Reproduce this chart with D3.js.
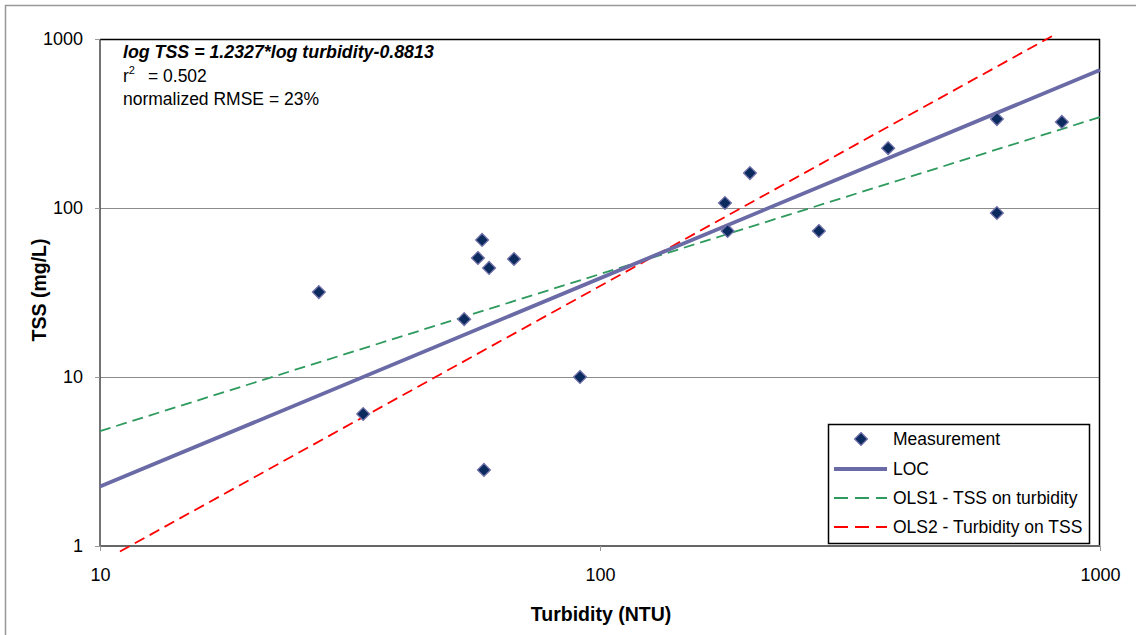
<!DOCTYPE html>
<html><head><meta charset="utf-8">
<script src="https://cdn.jsdelivr.net/npm/d3@7"></script>
<style>body{margin:0;background:#fff;} svg{display:block;font-family:"Liberation Sans",Arial,sans-serif;}</style>
</head><body>
<svg id="c" width="1136" height="635"></svg>
<script>
// Data
const turbidity = [27.4, 33.6, 53.5, 57.0, 58.1, 60.0, 58.6, 67.3, 91.2, 177.8, 180, 199.5, 274, 377, 622, 622, 839];
const tss       = [31.8, 6.04, 22.0, 50.6, 64.7, 44.2, 2.82, 49.9, 10.0, 107, 73.1, 161, 73.1, 226, 336, 93.4, 323];
const xTicks = [10, 100, 1000];
const yTicks = [1, 10, 100, 1000];
// Regression lines (log10 TSS = slope*log10 turbidity + intercept), drawn over turbidity range
const locLine  = {slope: 1.2327, intercept: -0.8813, range: [10, 1000]};
const ols1Line = {slope: 0.929,  intercept: -0.249,  range: [10, 1000]};
const ols2Line = {slope: 1.636,  intercept: -1.734,  range: [10.96, 820]};
const legendLabels = ["Measurement", "LOC", "OLS1 - TSS on turbidity", "OLS2 - Turbidity on TSS"];
const annotation = ["log TSS = 1.2327*log turbidity-0.8813", "r", "normalized RMSE = 23%"];

const svg = d3.select("#c");
const L = 100, R = 1100, T = 39, B = 546;
const x = d3.scaleLog().domain([10, 1000]).range([L, R]);
const y = d3.scaleLog().domain([1, 1000]).range([B, T]);

// outer frame
svg.append("rect").attr("x", 5.5).attr("y", 5.5).attr("width", 1140).attr("height", 640)
  .attr("fill", "none").attr("stroke", "#999").attr("stroke-width", 1.5);

// gridlines
svg.append("g").selectAll("line").data([10, 100]).join("line")
  .attr("x1", L).attr("x2", R).attr("y1", d => Math.round(y(d)) + 0.5).attr("y2", d => Math.round(y(d)) + 0.5)
  .attr("stroke", "#8c8c8c").attr("stroke-width", 1);

// plot border top/right
svg.append("path").attr("d", `M${L},${T + 0.5}H${R - 0.5}V${B}`).attr("fill", "none").attr("stroke", "#000").attr("stroke-width", 1.5);

// axes
const yAxis = d3.axisLeft(y).tickValues(yTicks).tickFormat(d3.format("d")).tickSize(5).tickPadding(12);
const gy = svg.append("g").attr("transform", `translate(${L},0)`).call(yAxis);
gy.select(".domain").attr("stroke", "#444").attr("stroke-width", 1.5).attr("d", `M0,${T}V${B}`);
gy.selectAll(".tick line").attr("stroke", "#999");
gy.selectAll("text").attr("font-size", 18).attr("fill", "#000").attr("font-family", "Liberation Sans, Arial");

const xAxis = d3.axisBottom(x).tickValues(xTicks).tickFormat(d3.format("d")).tickSize(5).tickPadding(17);
const gx = svg.append("g").attr("transform", `translate(0,${B})`).call(xAxis);
gx.select(".domain").attr("stroke", "#666").attr("stroke-width", 2).attr("d", `M${L},0H${R}`);
gx.selectAll(".tick line").attr("stroke", "#999");
gx.selectAll("text").attr("font-size", 18).attr("fill", "#000").attr("font-family", "Liberation Sans, Arial");

// lines
function linePts(l) {
  return l.range.map(t => [x(t), y(Math.pow(10, l.slope * Math.log10(t) + l.intercept))]);
}
const line = d3.line();
svg.append("path").attr("d", line(linePts(ols1Line))).attr("fill", "none")
  .attr("stroke", "#2e9a5e").attr("stroke-width", 1.8).attr("stroke-dasharray", "11,6");
svg.append("path").attr("d", line(linePts(ols2Line))).attr("fill", "none")
  .attr("stroke", "#ff0000").attr("stroke-width", 1.8).attr("stroke-dasharray", "11,6");
svg.append("path").attr("d", line(linePts(locLine))).attr("fill", "none")
  .attr("stroke", "#6a6aa6").attr("stroke-width", 3.8);

// points
const diamond = d3.symbol().type(d3.symbolDiamond2).size(105);
svg.append("g").selectAll("path").data(turbidity.map((t, i) => [t, tss[i]])).join("path")
  .attr("d", diamond).attr("transform", d => `translate(${x(d[0])},${y(d[1])})`)
  .attr("fill", "#0b2a5e").attr("stroke", "#7070a8").attr("stroke-width", 1.3);

// annotation
svg.append("text").attr("x", 123).attr("y", 58).attr("font-size", 17.8).attr("font-weight", "bold")
  .attr("font-style", "italic").text(annotation[0]);
const r2 = svg.append("text").attr("x", 123).attr("y", 82).attr("font-size", 17.5);
r2.append("tspan").text(annotation[1]);
r2.append("tspan").attr("dy", -8).attr("font-size", 11).text("2");
r2.append("tspan").attr("dy", 8).attr("dx", 13).text("= 0.502");
svg.append("text").attr("x", 123).attr("y", 105).attr("font-size", 17.5).text(annotation[2]);

// axis titles
svg.append("text").attr("x", 601).attr("y", 621).attr("text-anchor", "middle")
  .attr("font-size", 19.5).attr("font-weight", "bold").text("Turbidity (NTU)");
svg.append("text").attr("transform", "translate(46,290) rotate(-90)").attr("text-anchor", "middle")
  .attr("font-size", 19.5).attr("font-weight", "bold").text("TSS (mg/L)");

// legend
const lg = svg.append("g");
lg.append("rect").attr("x", 828.5).attr("y", 424.5).attr("width", 261).attr("height", 119)
  .attr("fill", "#fff").attr("stroke", "#000").attr("stroke-width", 1.5);
const ly = [439, 469, 498, 527];
lg.append("path").attr("d", diamond).attr("transform", `translate(861,${ly[0]})`)
  .attr("fill", "#0b2a5e").attr("stroke", "#7070a8").attr("stroke-width", 1.3);
lg.append("line").attr("x1", 834).attr("x2", 887).attr("y1", ly[1]).attr("y2", ly[1]).attr("stroke", "#6a6aa6").attr("stroke-width", 3.8);
lg.append("line").attr("x1", 834).attr("x2", 887).attr("y1", ly[2]).attr("y2", ly[2]).attr("stroke", "#2e9a5e").attr("stroke-width", 1.8).attr("stroke-dasharray", "14,7");
lg.append("line").attr("x1", 834).attr("x2", 887).attr("y1", ly[3]).attr("y2", ly[3]).attr("stroke", "#ff0000").attr("stroke-width", 1.8).attr("stroke-dasharray", "14,7");
lg.selectAll("text.l").data(legendLabels).join("text").attr("class", "l")
  .attr("x", 893).attr("y", (d, i) => ly[i]).attr("dy", "0.35em").attr("font-size", 17.5).text(d => d);
</script>
</body></html>
